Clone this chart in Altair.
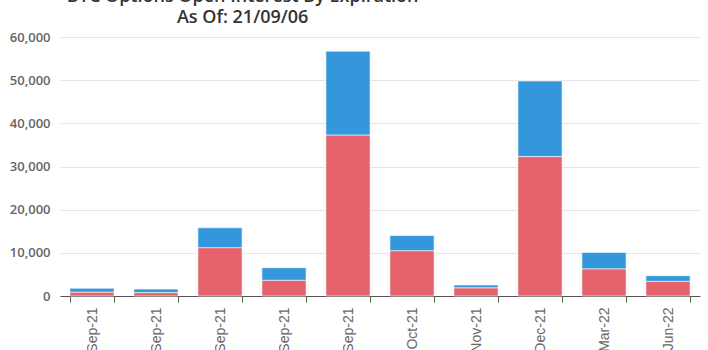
import altair as alt
import pandas as pd

expiries = ["7-Sep-21", "8-Sep-21", "10-Sep-21", "17-Sep-21", "24-Sep-21",
            "29-Oct-21", "26-Nov-21", "31-Dec-21", "25-Mar-22", "24-Jun-22"]
calls = [900, 800, 11200, 3650, 37300, 10500, 1900, 32300, 6300, 3400]
puts = [900, 800, 4600, 2900, 19400, 3500, 650, 17500, 3800, 1300]

rows = []
for e, c, p in zip(expiries, calls, puts):
    rows.append({"Expiry": e, "Type": "Calls", "OI": c, "ord": 0})
    rows.append({"Expiry": e, "Type": "Puts", "OI": p, "ord": 1})
df = pd.DataFrame(rows)

chart = alt.Chart(df).mark_bar(stroke="white", strokeWidth=0.6).encode(
    x=alt.X("Expiry:N", sort=expiries, title=None,
            scale=alt.Scale(paddingInner=0.31, paddingOuter=0.155),
            axis=alt.Axis(labelAngle=-90, labelFont="Liberation Sans", labelFontSize=14,
                          labelColor="#666666", domainColor="#555555", tickColor="#555555",
                          tickSize=6, tickBand="extent", labelPadding=5,
                          labelOverlap=False)),
    y=alt.Y("OI:Q", stack="zero", title=None,
            scale=alt.Scale(domain=[0, 60000]),
            axis=alt.Axis(values=[0, 10000, 20000, 30000, 40000, 50000, 60000],
                          format=",.0f", labelFont="Open Sans", labelFontSize=13,
                          labelFontWeight=600, labelColor="#666666", labelPadding=10,
                          domain=False, ticks=False, gridColor="#e6e6e6")),
    color=alt.Color("Type:N", scale=alt.Scale(domain=["Calls", "Puts"],
                                              range=["#e5616b", "#3497db"]),
                    legend=None),
    order=alt.Order("ord:Q", sort="ascending"),
).properties(
    width=640, height=259,
    autosize=alt.AutoSizeParams(type="none"),
    padding={"left": 60, "top": 37, "right": 8, "bottom": 54},
    title=alt.TitleParams(["BTC Options Open Interest By Expiration", "As Of: 21/09/06"],
                          font="Open Sans", fontSize=18, fontWeight=600, color="#333333",
                          anchor="middle", frame="bounds", dx=-112, offset=4,
                          lineHeight=21),
).configure_view(stroke=None).configure_axisX(grid=False)

chart.save("out.html", embed_options={"renderer": "svg", "actions": False})
